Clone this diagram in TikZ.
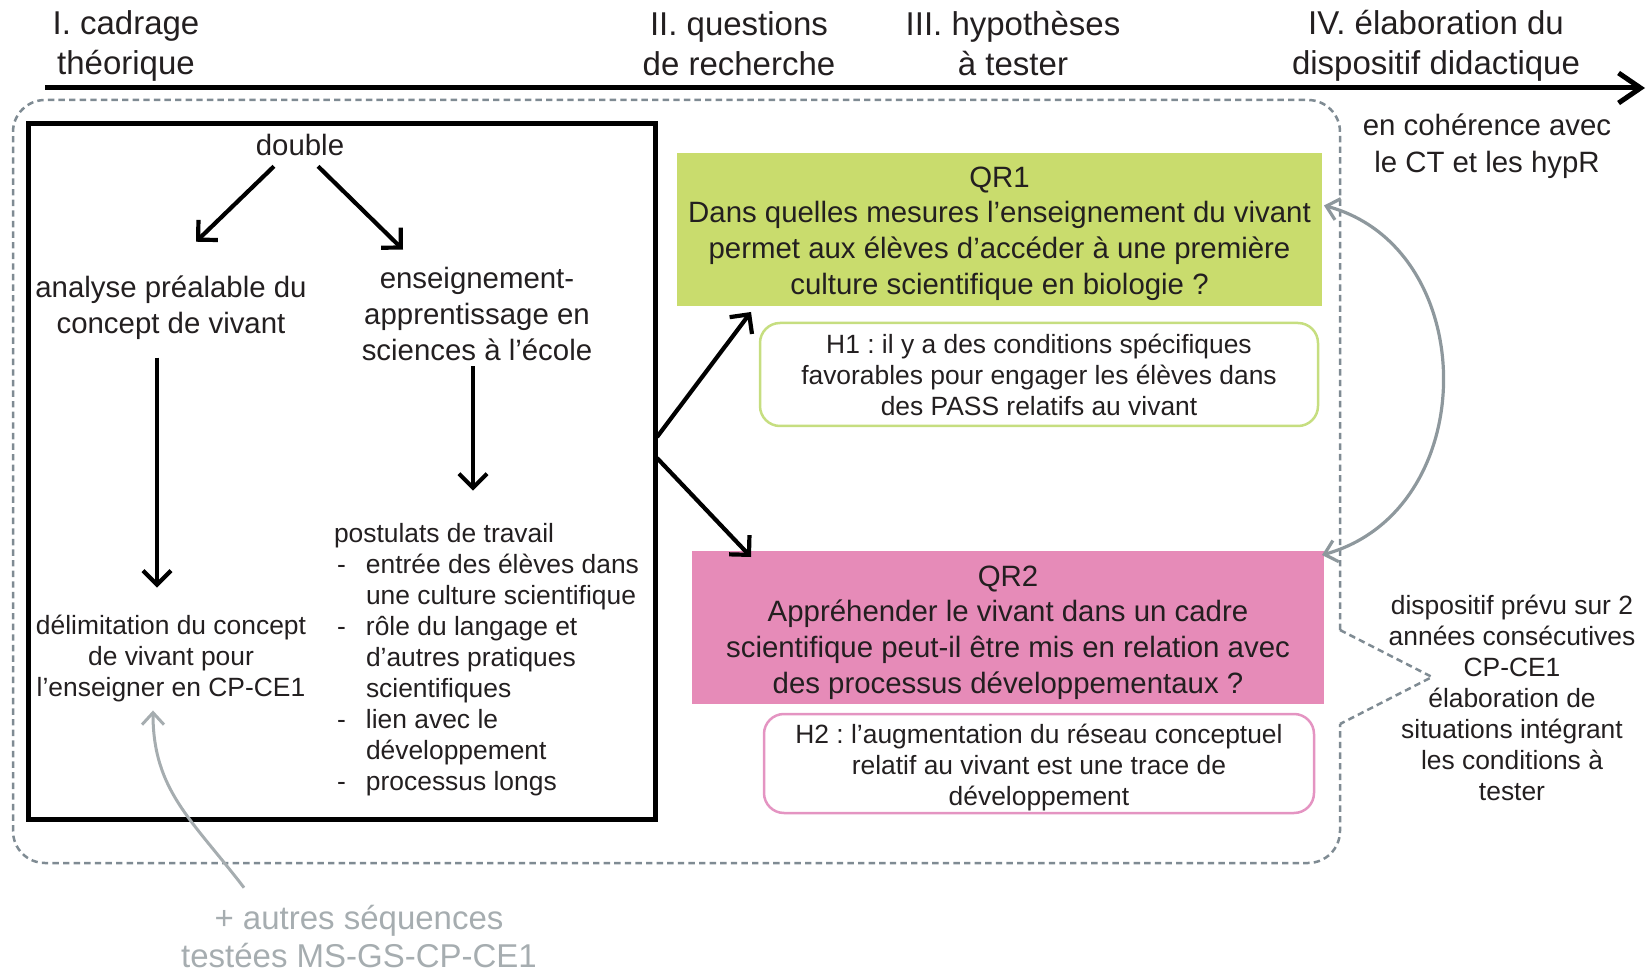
\documentclass[tikz,border=0pt]{standalone}
\usepackage{fontspec}
\setmainfont{Liberation Sans}
\usetikzlibrary{arrows.meta,calc}
\definecolor{txt}{HTML}{231F20}
\definecolor{qrgreen}{HTML}{C9DC6D}
\definecolor{qrpink}{HTML}{E68BB8}
\definecolor{hgreen}{HTML}{C6DE80}
\definecolor{hpink}{HTML}{E494C2}
\definecolor{dashcol}{HTML}{7F8B93}
\definecolor{graytxt}{HTML}{A6ADB0}
\definecolor{grayarc}{HTML}{8E989D}
\newcommand\FontHead{\fontsize{16.5}{20}\selectfont}
\newcommand\FontMed{\fontsize{14.7}{17.8}\selectfont}
\newcommand\FontSmall{\fontsize{13.2}{15.5}\selectfont}
\newcommand\FontCoh{\fontsize{14.7}{18.5}\selectfont}
\newcommand\FontGray{\fontsize{16.5}{19}\selectfont}
\frenchspacing
\begin{document}
\begin{tikzpicture}[x=0.5pt,y=-0.5pt,
  every node/.style={inner sep=0pt,outer sep=0pt,text=txt},
  head/.style={align=center,font=\FontHead},
  medtext/.style={align=center,font=\FontMed},
  smalltext/.style={align=center,font=\FontSmall},
  cohtext/.style={align=center,font=\FontCoh},
  graytext/.style={align=center,font=\FontGray,text=graytxt},
  dashbox/.style={draw=dashcol,line width=1.25pt,dash pattern=on 3.2pt off 2.1pt},
  arr/.style={draw=black,line width=2.1pt,-{Straight Barb[length=7pt,width=14pt]}},
  grayarr/.style={draw=graytxt,line width=1.5pt,-{Straight Barb[length=6pt,width=11pt]}},
  arcarr/.style={draw=grayarc,line width=1.6pt,{Straight Barb[length=6pt,width=11pt]}-{Straight Barb[length=6pt,width=11pt]}}]
\useasboundingbox (0,0) rectangle (1651,973);

% timeline
\node[head] (hd1) at (126,46) {I. cadrage\\théorique};
\node[head] (hd2) at (739,44) {II. questions\\de recherche};
\node[head] (hd3) at (1013,44) {III. hypothèses\\à tester};
\node[head] (hd4) at (1436,46) {IV. élaboration du\\dispositif didactique};
\coordinate (axs) at (45,88);
\coordinate (axe) at (1645,88);
\draw[line width=2.5pt,-{Straight Barb[length=11pt,width=15pt]}] (axs) -- (axe);

% dashed container
\draw[dashbox,rounded corners=16pt] (1340,630) -- (1340,100) -- (13,100) -- (13,863) -- (1340,863) -- (1340,724);
\draw[dashbox] (1340,630) -- (1432,677) -- (1340,724);

% theoretical frame
\node[draw=black,line width=2.5pt,minimum width=313.5pt,minimum height=347.5pt] (frame) at (341.5,471.5) {};
\node[medtext] (double) at (300,145) {double};
\node[medtext] (analyse) at (171,308) {analyse préalable du\\concept de vivant};
\node[medtext] (enseig) at (477,314) {enseignement-\\apprentissage en\\sciences à l’école};
\node[smalltext] (delim) at (171,659) {délimitation du concept\\de vivant pour\\l’enseigner en CP-CE1};
\node[smalltext,align=left,anchor=west] (postul) at (334,660) {postulats de travail\\
\hspace*{1.5pt}\makebox[14.5pt][l]{-}entrée des élèves dans\\
\hspace*{16pt}une culture scientifique\\
\hspace*{1.5pt}\makebox[14.5pt][l]{-}rôle du langage et\\
\hspace*{16pt}d’autres pratiques\\
\hspace*{16pt}scientifiques\\
\hspace*{1.5pt}\makebox[14.5pt][l]{-}lien avec le\\
\hspace*{16pt}développement\\
\hspace*{1.5pt}\makebox[14.5pt][l]{-}processus longs};

\draw[arr] ($(double.south)+(-26,10.5)$) -- ($(analyse.north)+(25,-34.6)$);
\draw[arr] ($(double.south)+(18,10.5)$) -- ($(enseig.north)+(-74,-18)$);
\draw[arr] ($(analyse.south)+(-14,18)$) -- ($(delim.north)+(-14,-28)$);
\draw[arr] ($(enseig.south)+(-4,6)$) -- ($(postul.north -| enseig.south)+(-4,-33)$);

% research questions and hypotheses
\node[fill=qrgreen,minimum width=322.5pt,minimum height=76.5pt] (qr1) at (999.5,229.5) {};
\node[medtext] (qr1t) at ($(qr1)+(0,4)$)
  {QR1\\Dans quelles mesures l’enseignement du vivant\\permet aux élèves d’accéder à une première\\culture scientifique en biologie ?};
\node[draw=hgreen,line width=1.25pt,rounded corners=10pt,minimum width=279pt,minimum height=51.5pt,smalltext] (hy1) at (1039,374.5)
  {H1 : il y a des conditions spécifiques\\favorables pour engager les élèves dans\\des PASS relatifs au vivant};
\node[fill=qrpink,minimum width=316pt,minimum height=76.5pt] (qr2) at (1008,627.5) {};
\node[medtext] (qr2t) at ($(qr2)+(0,5)$)
  {QR2\\Appréhender le vivant dans un cadre\\scientifique peut-il être mis en relation avec\\des processus développementaux ?};
\node[draw=hpink,line width=1.25pt,rounded corners=10pt,minimum width=275pt,minimum height=49.5pt] (hy2) at (1039,763.5) {};
\node[smalltext] (hy2t) at ($(hy2)+(0,4)$)
  {H2 : l’augmentation du réseau conceptuel\\relatif au vivant est une trace de\\développement};

\draw[arr] ($(frame.east)+(2,-34.5)$) -- ($(qr1.south west)+(74,6)$);
\draw[arr] ($(frame.east)+(2,-13.5)$) -- ($(qr2.north west)+(59,6)$);

% right side notes
\node[cohtext] (coh) at (1487,146) {en cohérence avec\\le CT et les hypR};
\node[smalltext] (dispo) at (1512,698) {dispositif prévu sur 2\\années consécutives\\CP-CE1\\élaboration de\\situations intégrant\\les conditions à\\tester};
\draw[arcarr] ($(qr1.east)+(2,-24)$) .. controls +(158,43) and +(161,-45) .. ($(qr2.north east)+(-2,4)$);

% bottom note
\node[graytext] (autres) at (359,937) {+ autres séquences\\testées MS-GS-CP-CE1};
\draw[grayarr] ($(autres.north)+(-115,-18)$) .. controls +(-52,-68) and +(0,80) .. ($(delim.south)+(-18,8)$);
\end{tikzpicture}
\end{document}
